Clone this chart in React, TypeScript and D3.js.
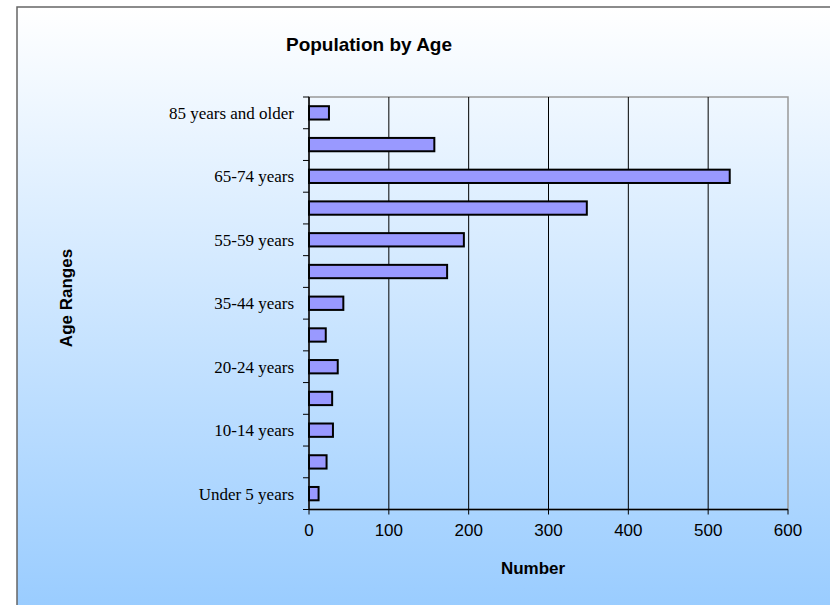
import React, { useEffect, useRef } from 'react';
import * as d3 from 'd3';

// age groups, bottom to top
const ageGroups = [
  'Under 5 years', '5-9 years', '10-14 years', '15-19 years', '20-24 years',
  '25-34 years', '35-44 years', '45-54 years', '55-59 years', '60-64 years',
  '65-74 years', '75-84 years', '85 years and older',
];
const population = [12, 22, 30, 29, 36, 21, 43, 173, 194, 348, 527, 157, 25];
const xTicks = [0, 100, 200, 300, 400, 500, 600];

export default function App() {
  const svgRef = useRef<SVGSVGElement>(null);

  useEffect(() => {
    if (!svgRef.current) return;
    document.body.style.margin = '0';
    document.body.style.overflow = 'hidden';

    const svg = d3.select(svgRef.current);
    svg.selectAll('*').remove();

    const width = 830;
    const height = 605;
    const plot = { left: 309, top: 97, right: 788, bottom: 509.5 };
    const sans = '"Liberation Sans", Arial, sans-serif';

    // background gradient
    const defs = svg.append('defs');
    const grad = defs.append('linearGradient')
      .attr('id', 'bg')
      .attr('x1', 0).attr('y1', 0).attr('x2', 0).attr('y2', 1);
    grad.append('stop').attr('offset', '0%').attr('stop-color', '#ffffff');
    grad.append('stop').attr('offset', '100%').attr('stop-color', '#99ccff');

    svg.append('rect')
      .attr('x', 0).attr('y', 0)
      .attr('width', width).attr('height', height)
      .attr('fill', '#ffffff');

    svg.append('rect')
      .attr('x', 17).attr('y', 7)
      .attr('width', width).attr('height', height)
      .attr('fill', 'url(#bg)')
      .attr('stroke', '#666666')
      .attr('stroke-width', 1.5);

    const x = d3.scaleLinear().domain([0, 600]).range([plot.left, plot.right]);
    const y = d3.scaleBand<string>()
      .domain(ageGroups.slice().reverse())
      .range([plot.top, plot.bottom])
      .paddingInner(0.58)
      .paddingOuter(0.29);

    const g = svg.append('g');

    // plot area border (top & right gray)
    g.append('rect')
      .attr('x', plot.left).attr('y', plot.top)
      .attr('width', plot.right - plot.left).attr('height', plot.bottom - plot.top)
      .attr('fill', 'none')
      .attr('stroke', '#999999')
      .attr('stroke-width', 1.5);

    // gridlines
    g.selectAll('.grid')
      .data(xTicks.slice(1, -1))
      .enter()
      .append('line')
      .attr('x1', d => x(d)).attr('x2', d => x(d))
      .attr('y1', plot.top).attr('y2', plot.bottom)
      .attr('stroke', '#000')
      .attr('stroke-width', 1);

    // bars
    g.selectAll('.bar')
      .data(ageGroups.map((a, i) => ({ a, v: population[i] })))
      .enter()
      .append('rect')
      .attr('x', x(0))
      .attr('y', d => y(d.a) || 0)
      .attr('width', d => x(d.v) - x(0))
      .attr('height', y.bandwidth())
      .attr('fill', '#9999ff')
      .attr('stroke', '#000')
      .attr('stroke-width', 2);

    // y axis
    const step = y.step();
    const boundaries = d3.range(ageGroups.length + 1).map(i => plot.top + i * step);
    g.append('line')
      .attr('x1', plot.left).attr('x2', plot.left)
      .attr('y1', plot.top).attr('y2', plot.bottom)
      .attr('stroke', '#000').attr('stroke-width', 1.5);
    g.selectAll('.ytick')
      .data(boundaries)
      .enter()
      .append('line')
      .attr('x1', plot.left - 6).attr('x2', plot.left)
      .attr('y1', d => d).attr('y2', d => d)
      .attr('stroke', '#000').attr('stroke-width', 1);

    g.selectAll('.ylabel')
      .data(ageGroups.filter((_, i) => i % 2 === 0))
      .enter()
      .append('text')
      .attr('x', 294)
      .attr('y', d => (y(d) || 0) + y.bandwidth() / 2)
      .attr('dy', '0.35em')
      .attr('text-anchor', 'end')
      .style('font-family', '"Liberation Serif", "Times New Roman", serif')
      .style('font-size', '17px')
      .attr('fill', '#000')
      .text(d => d);

    // x axis
    g.append('line')
      .attr('x1', plot.left).attr('x2', plot.right)
      .attr('y1', plot.bottom).attr('y2', plot.bottom)
      .attr('stroke', '#000').attr('stroke-width', 1.5);
    g.selectAll('.xtick')
      .data(xTicks)
      .enter()
      .append('line')
      .attr('x1', d => x(d)).attr('x2', d => x(d))
      .attr('y1', plot.bottom).attr('y2', plot.bottom + 5)
      .attr('stroke', '#000').attr('stroke-width', 1);
    g.selectAll('.xlabel')
      .data(xTicks)
      .enter()
      .append('text')
      .attr('x', d => x(d))
      .attr('y', 536)
      .attr('text-anchor', 'middle')
      .style('font-family', sans)
      .style('font-size', '17px')
      .attr('fill', '#000')
      .text(d => d);

    // axis titles
    svg.append('text')
      .attr('x', 533).attr('y', 574)
      .attr('text-anchor', 'middle')
      .style('font-family', sans)
      .style('font-size', '17px')
      .style('font-weight', 'bold')
      .text('Number');

    svg.append('text')
      .attr('transform', 'translate(72,298) rotate(-90)')
      .attr('text-anchor', 'middle')
      .style('font-family', sans)
      .style('font-size', '17px')
      .style('font-weight', 'bold')
      .text('Age Ranges');

    svg.append('text')
      .attr('x', 369).attr('y', 51)
      .attr('text-anchor', 'middle')
      .style('font-family', sans)
      .style('font-size', '19px')
      .style('font-weight', 'bold')
      .text('Population by Age');
  }, []);

  return (
    <div style={{ position: 'fixed', left: 0, top: 0 }}>
      <svg ref={svgRef} width={830} height={605} style={{ display: 'block' }}></svg>
    </div>
  );
}
